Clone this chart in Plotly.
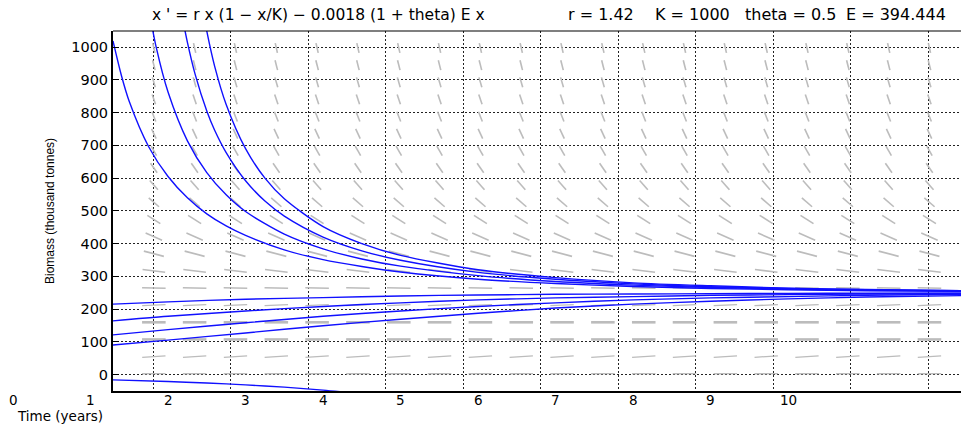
import plotly.graph_objects as go

# ---------------- text ----------------
title_eq = "x ' = r x (1 − x/K) − 0.0018 (1 + theta) E x"
param_texts = ["r = 1.42", "K = 1000", "theta = 0.5", "E = 394.444"]
param_centers_px = [601, 692, 790, 896]
y_title = "Biomass (thousand tonnes)"
x_title = "Time (years)"

# ---------------- axes data ----------------
x_range = [1.29, 12.23]
y_range = [-50.4, 1049.6]
y_ticks = [0, 100, 200, 300, 400, 500, 600, 700, 800, 900, 1000]
x_grid = [1.81, 2.81, 3.81, 4.81, 5.81, 6.81, 7.81, 8.81, 9.81, 10.81, 11.81]
x_tick_vals = [0, 1, 2, 3, 4, 5, 6, 7, 8, 9, 10]
x_tick_text = ["0", "1", "2", "3", "4", "5", "6", "7", "8", "9", "10"]

# ---------------- solution curves ----------------
curve_A_t = [1.29, 1.4, 1.5, 1.75, 2.0, 2.25, 2.5, 2.75, 3.0, 3.5, 4.0, 4.5, 5.0, 6.0, 7.0, 8.0, 9.0, 10.0, 11.0, 12.23]
curve_A_v = [1019, 912, 834, 696, 605, 540, 491, 454, 425, 381, 351, 330, 313, 291, 278, 269, 263, 259, 256, 254]
curve_B_t = [1.75, 1.85, 2.0, 2.25, 2.5, 2.75, 3.0, 3.5, 4.0, 4.5, 5.0, 6.0, 7.0, 8.0, 9.0, 10.0, 11.0, 12.23]
curve_B_v = [1118, 997, 863, 714, 617, 549, 498, 429, 384, 353, 331, 302, 284, 273, 266, 261, 257, 255]
curve_C_t = [2.2, 2.25, 2.35, 2.5, 2.6, 2.75, 3.0, 3.25, 3.5, 4.0, 4.5, 5.0, 6.0, 7.0, 8.0, 9.0, 10.0, 11.0, 12.23]
curve_C_v = [1073, 1015, 917, 805, 747, 678, 592, 530, 484, 420, 378, 349, 312, 291, 277, 268, 263, 259, 256]
curve_D_t = [2.45, 2.5, 2.6, 2.75, 3.0, 3.25, 3.5, 4.0, 4.5, 5.0, 6.0, 7.0, 8.0, 9.0, 10.0, 11.0, 12.23]
curve_D_v = [1113, 1049, 943, 825, 690, 600, 537, 452, 400, 364, 320, 296, 280, 271, 264, 260, 256]
low_t = [1.29, 2, 3, 4, 5, 6, 7, 8, 9, 10, 11, 12.23]
curve_E_v = [215, 222, 230, 235, 240, 243, 245, 246, 247, 248, 248.5, 249]
curve_F_v = [164, 178, 194, 208, 219, 228, 234, 238, 242, 244, 246, 247]
curve_G_v = [121, 137, 158, 178, 194, 208, 219, 228, 234, 238, 242, 245]
curve_H_v = [90, 105, 127, 149, 169, 187, 203, 215, 224, 231, 237, 241]
curve_I_t = [1.29, 2.0, 2.5, 3.0, 3.5, 4.0, 4.5]
curve_I_v = [-16.3, -21.4, -26.0, -31.6, -38.7, -47.7, -59.1]

# ---------------- direction field ----------------
field_t = [1.817, 2.343, 2.870, 3.397, 3.923, 4.450, 4.977, 5.503, 6.030, 6.557,
           7.083, 7.610, 8.137, 8.663, 9.190, 9.717, 10.243, 10.770, 11.297, 11.823]
field_y = [2.4, 54.8, 107.1, 159.5, 211.9, 264.3, 316.7, 369.0, 421.4, 473.8,
           526.2, 578.6, 631.0, 683.3, 735.7, 788.1, 840.5, 892.9, 945.2, 997.6]
field_slope = [0.84, 15.2, 0.0, 0.0, 11.5, -5.4, -30.0, -62.4, -102.6, -150.6,
               -206.4, -269.9, -341.3, -420.5, -507.4, -602.2, -704.7, -815.1, -933.2, -1059.1]
field_width = [1.3, 1.3, 2.6, 2.6, 1.3, 1.6, 1.6, 1.6, 1.6, 1.6,
               1.6, 1.6, 1.6, 1.6, 1.6, 1.6, 1.6, 1.6, 1.6, 1.6]

fig = go.Figure()

# field segments, grouped by stroke width
field_span_t = 11.06
field_span_y = 1100.0
seg_len = 0.0275
groups = {}
for yv, f, w in zip(field_y, field_slope, field_width):
    u = 1.0 / field_span_t
    v = f / field_span_y
    n = (u * u + v * v) ** 0.5
    dt = 0.5 * seg_len * (u / n) * field_span_t
    dy = 0.5 * seg_len * (v / n) * field_span_y
    gx, gy = groups.setdefault(w, ([], []))
    for tv in field_t:
        gx += [tv - dt, tv + dt, None]
        gy += [yv - dy, yv + dy, None]
for w, (gx, gy) in groups.items():
    fig.add_trace(go.Scatter(x=gx, y=gy, mode="lines",
                             line=dict(color="#bcbcbc", width=w),
                             hoverinfo="skip", showlegend=False))

curves = [
    (curve_A_t, curve_A_v), (curve_B_t, curve_B_v), (curve_C_t, curve_C_v),
    (curve_D_t, curve_D_v), (low_t, curve_E_v), (low_t, curve_F_v),
    (low_t, curve_G_v), (low_t, curve_H_v), (curve_I_t, curve_I_v),
]
for t, v in curves:
    fig.add_trace(go.Scatter(x=t, y=v, mode="lines",
                             line=dict(color="#1010ff", width=1.4, shape="spline", smoothing=0.8),
                             hoverinfo="skip", showlegend=False))

W, H = 961, 424
ml, mr, mt, mb = 113, 0, 31, 33
pw = W - ml - mr
ph = H - mt - mb

def tpaper(tv):
    return (tv - x_range[0]) / (x_range[1] - x_range[0])

def px2paper_x(px):
    return (px - ml) / pw

def py2paper_y(py):
    return (H - mb - py) / ph

font_main = "DejaVu Sans"
annotations = []
for tv, tt in zip(x_tick_vals, x_tick_text):
    annotations.append(dict(x=tpaper(tv), y=py2paper_y(400), xref="paper", yref="paper",
                            text=tt, showarrow=False, xanchor="center", yanchor="middle",
                            borderpad=0,
                            font=dict(family=font_main, size=13.5, color="black")))
annotations.append(dict(x=px2paper_x(60), y=py2paper_y(416), xref="paper", yref="paper",
                        text=x_title, showarrow=False, xanchor="center", yanchor="middle",
                        borderpad=0,
                        font=dict(family=font_main, size=13.5, color="black")))
annotations.append(dict(x=px2paper_x(50), y=py2paper_y(211), xref="paper", yref="paper",
                        text=y_title, showarrow=False, textangle=-90, xanchor="center", yanchor="middle",
                        font=dict(family="Liberation Sans", size=12, color="black")))
annotations.append(dict(x=px2paper_x(318), y=py2paper_y(15), xref="paper", yref="paper",
                        text=title_eq, showarrow=False, xanchor="center", yanchor="middle",
                        font=dict(family=font_main, size=15.5, color="black")))
for txt, cx in zip(param_texts, param_centers_px):
    annotations.append(dict(x=px2paper_x(cx), y=py2paper_y(15), xref="paper", yref="paper",
                            text=txt, showarrow=False, xanchor="center", yanchor="middle",
                            font=dict(family=font_main, size=16, color="black")))

fig.update_layout(
    width=W, height=H,
    margin=dict(l=ml, r=mr, t=mt, b=mb, pad=0),
    paper_bgcolor="white", plot_bgcolor="white",
    showlegend=False,
    annotations=annotations,
    shapes=[dict(type="line", xref="paper", yref="paper", x0=0, x1=1, y0=1, y1=1,
                 line=dict(color="black", width=1.2))],
    xaxis=dict(range=x_range, tickvals=x_grid, showticklabels=False, ticks="",
               showgrid=True, gridcolor="#222222", gridwidth=1, griddash="2px,2px",
               zeroline=False, showline=True, linecolor="black", linewidth=2),
    yaxis=dict(range=y_range, tickvals=y_ticks, ticks="inside", ticklen=6, tickcolor="black",
               tickfont=dict(family=font_main, size=14.5, color="black"),
               showgrid=True, gridcolor="#222222", gridwidth=1, griddash="2px,2px",
               zeroline=False, showline=True, linecolor="black", linewidth=2),
)

fig.write_html("out.html")
